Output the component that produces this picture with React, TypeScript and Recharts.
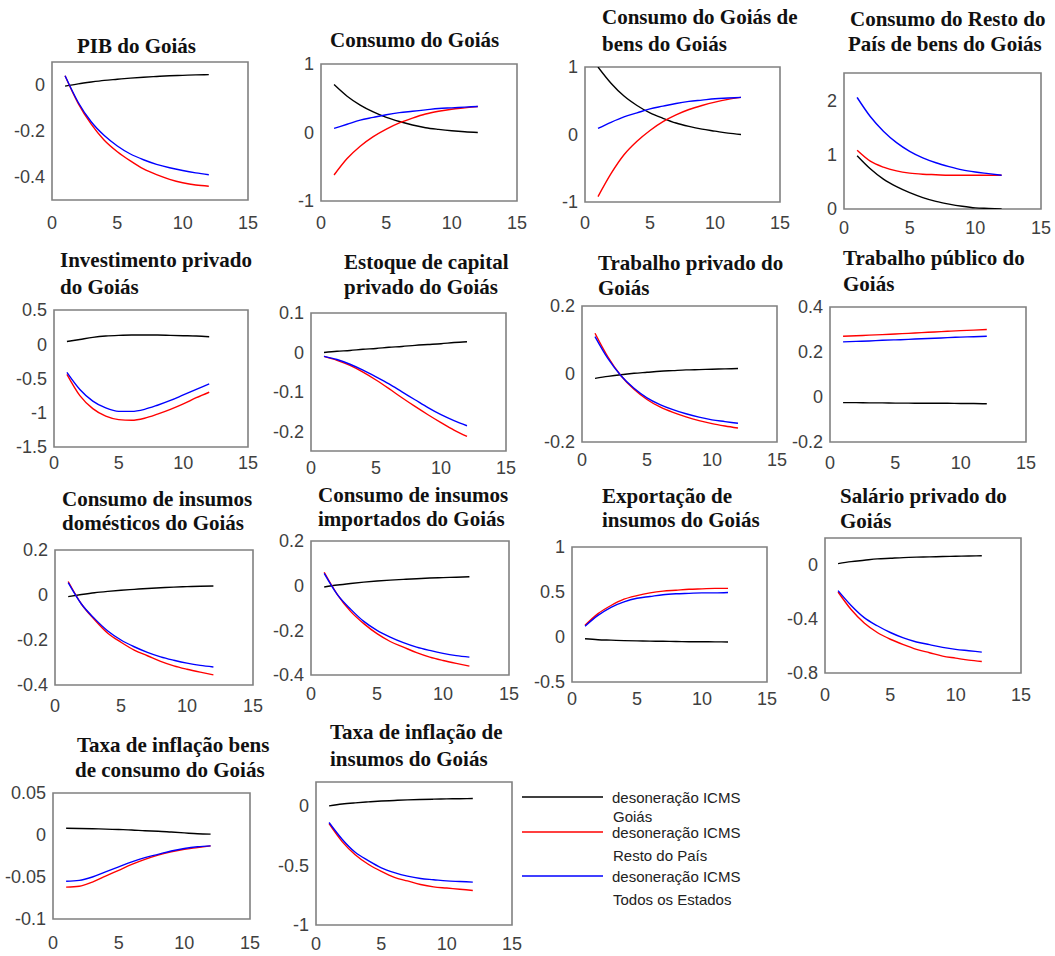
import { LineChart, Line, XAxis, YAxis, ReferenceArea } from 'recharts';

// horizon (quarters) and axis ticks
const periods = [1, 2, 3, 4, 5, 6, 7, 8, 9, 10, 11, 12];
const xTicks = [0, 5, 10, 15];

// go = desoneração ICMS Goiás (black), rp = Resto do País (red), te = Todos os Estados (blue)
const pibGo = [-0.005, 0.005, 0.013, 0.02, 0.025, 0.03, 0.034, 0.037, 0.04, 0.042, 0.044, 0.045];
const pibRp = [0.04, -0.08, -0.17, -0.24, -0.29, -0.33, -0.365, -0.39, -0.41, -0.425, -0.435, -0.44];
const pibTe = [0.04, -0.075, -0.16, -0.22, -0.265, -0.3, -0.325, -0.345, -0.36, -0.372, -0.382, -0.39];

const consGo = [0.7, 0.53, 0.4, 0.3, 0.22, 0.16, 0.11, 0.07, 0.045, 0.025, 0.01, 0.0];
const consRp = [-0.62, -0.38, -0.2, -0.06, 0.05, 0.14, 0.21, 0.27, 0.31, 0.34, 0.36, 0.38];
const consTe = [0.06, 0.12, 0.18, 0.22, 0.26, 0.29, 0.31, 0.33, 0.35, 0.36, 0.37, 0.38];

const consBensGo = [1.0, 0.76, 0.57, 0.43, 0.32, 0.24, 0.17, 0.12, 0.08, 0.05, 0.02, 0.0];
const consBensRp = [-0.92, -0.58, -0.3, -0.1, 0.06, 0.19, 0.29, 0.37, 0.43, 0.48, 0.52, 0.55];
const consBensTe = [0.09, 0.18, 0.26, 0.32, 0.38, 0.42, 0.46, 0.49, 0.51, 0.53, 0.54, 0.55];

const consRestoGo = [0.98, 0.74, 0.55, 0.41, 0.3, 0.21, 0.14, 0.09, 0.05, 0.02, 0.01, 0.0];
const consRestoRp = [1.08, 0.88, 0.77, 0.7, 0.66, 0.64, 0.63, 0.62, 0.62, 0.62, 0.62, 0.62];
const consRestoTe = [2.05, 1.7, 1.43, 1.22, 1.06, 0.94, 0.85, 0.78, 0.72, 0.68, 0.65, 0.62];

const invGo = [0.04, 0.07, 0.1, 0.12, 0.13, 0.135, 0.135, 0.135, 0.13, 0.125, 0.12, 0.11];
const invRp = [-0.44, -0.75, -0.94, -1.05, -1.1, -1.11, -1.08, -1.02, -0.95, -0.87, -0.78, -0.7];
const invTe = [-0.41, -0.66, -0.83, -0.93, -0.98, -0.98, -0.95, -0.89, -0.82, -0.74, -0.66, -0.58];

const capGo = [0.0, 0.003, 0.005, 0.008, 0.01, 0.013, 0.015, 0.018, 0.02, 0.022, 0.025, 0.027];
const capRp = [-0.01, -0.02, -0.033, -0.05, -0.07, -0.092, -0.115, -0.137, -0.158, -0.178, -0.197, -0.213];
const capTe = [-0.01, -0.018, -0.03, -0.045, -0.062, -0.08, -0.1, -0.12, -0.14, -0.158, -0.173, -0.186];

const trabPrivGo = [-0.013, -0.007, -0.002, 0.002, 0.005, 0.008, 0.01, 0.012, 0.013, 0.014, 0.015, 0.016];
const trabPrivRp = [0.12, 0.05, -0.005, -0.045, -0.075, -0.097, -0.113, -0.126, -0.137, -0.146, -0.153, -0.159];
const trabPrivTe = [0.11, 0.045, -0.005, -0.042, -0.07, -0.09, -0.105, -0.117, -0.127, -0.135, -0.14, -0.145];

const trabPubGo = [-0.025, -0.025, -0.026, -0.026, -0.027, -0.027, -0.028, -0.028, -0.028, -0.029, -0.029, -0.03];
const trabPubRp = [0.27, 0.272, 0.275, 0.277, 0.28, 0.283, 0.286, 0.289, 0.292, 0.295, 0.297, 0.3];
const trabPubTe = [0.245, 0.247, 0.249, 0.252, 0.254, 0.256, 0.259, 0.261, 0.264, 0.266, 0.268, 0.27];

const insDomGo = [-0.007, 0.002, 0.01, 0.016, 0.021, 0.025, 0.029, 0.032, 0.035, 0.037, 0.039, 0.04];
const insDomRp = [0.06, -0.04, -0.11, -0.17, -0.21, -0.245, -0.27, -0.295, -0.315, -0.33, -0.343, -0.355];
const insDomTe = [0.055, -0.04, -0.105, -0.16, -0.2, -0.23, -0.255, -0.275, -0.29, -0.303, -0.313, -0.32];

const insImpGo = [-0.006, 0.003, 0.01, 0.016, 0.021, 0.025, 0.028, 0.031, 0.034, 0.036, 0.038, 0.04];
const insImpRp = [0.06, -0.04, -0.115, -0.17, -0.215, -0.25, -0.275, -0.3, -0.32, -0.335, -0.348, -0.36];
const insImpTe = [0.055, -0.04, -0.105, -0.16, -0.2, -0.23, -0.255, -0.275, -0.29, -0.303, -0.313, -0.32];

const expGo = [-0.02, -0.03, -0.035, -0.04, -0.043, -0.046, -0.048, -0.05, -0.052, -0.053, -0.054, -0.055];
const expRp = [0.13, 0.26, 0.35, 0.42, 0.46, 0.49, 0.51, 0.52, 0.53, 0.535, 0.54, 0.54];
const expTe = [0.12, 0.24, 0.33, 0.39, 0.43, 0.45, 0.47, 0.48, 0.485, 0.49, 0.49, 0.495];

const salGo = [0.01, 0.025, 0.035, 0.045, 0.05, 0.055, 0.058, 0.06, 0.063, 0.065, 0.067, 0.068];
const salRp = [-0.2, -0.33, -0.43, -0.5, -0.55, -0.59, -0.625, -0.65, -0.675, -0.69, -0.705, -0.715];
const salTe = [-0.19, -0.3, -0.39, -0.45, -0.5, -0.54, -0.57, -0.59, -0.61, -0.625, -0.635, -0.645];

const inflConsGo = [0.008, 0.0078, 0.0075, 0.007, 0.0065, 0.006, 0.005, 0.0045, 0.0035, 0.0025, 0.0015, 0.001];
const inflConsRp = [-0.062, -0.061, -0.056, -0.049, -0.042, -0.035, -0.029, -0.024, -0.02, -0.017, -0.015, -0.013];
const inflConsTe = [-0.055, -0.054, -0.05, -0.044, -0.038, -0.032, -0.027, -0.023, -0.019, -0.016, -0.014, -0.013];

const inflInsGo = [0.0, 0.015, 0.025, 0.033, 0.04, 0.045, 0.05, 0.053, 0.056, 0.058, 0.06, 0.061];
const inflInsRp = [-0.15, -0.3, -0.41, -0.49, -0.55, -0.6, -0.63, -0.66, -0.68, -0.69, -0.7, -0.71];
const inflInsTe = [-0.14, -0.28, -0.39, -0.46, -0.52, -0.56, -0.59, -0.61, -0.62, -0.63, -0.635, -0.64];

const legendLabels = [
  ['desoneração ICMS', 'Goiás'],
  ['desoneração ICMS', 'Resto do País'],
  ['desoneração ICMS', 'Todos os Estados'],
];

// panel layout: plot box [left, top, right, bottom] in page px, title lines [text, x, centerY]
const panels = [
  { title: [['PIB do Goiás', 77, 47]], box: [52, 62, 248, 200], y: [-0.5, 0.1], yTicks: [-0.4, -0.2, 0], gap: 22, go: pibGo, rp: pibRp, te: pibTe },
  { title: [['Consumo do Goiás', 330, 41]], box: [321, 64, 517, 201], y: [-1, 1], yTicks: [-1, 0, 1], gap: 21, go: consGo, rp: consRp, te: consTe },
  { title: [['Consumo do Goiás de', 602, 18], ['bens do Goiás', 602, 45]], box: [585, 67, 780, 202], y: [-1, 1], yTicks: [-1, 0, 1], gap: 20, go: consBensGo, rp: consBensRp, te: consBensTe },
  { title: [['Consumo do Resto do', 850, 20], ['País de bens do Goiás', 848, 45]], box: [844, 73, 1041, 209], y: [0, 2.5], yTicks: [0, 1, 2], gap: 18, go: consRestoGo, rp: consRestoRp, te: consRestoTe },
  { title: [['Investimento privado', 60, 261], ['do Goiás', 60, 288]], box: [54, 310, 248, 447], y: [-1.5, 0.5], yTicks: [-1.5, -1, -0.5, 0, 0.5], gap: 15, go: invGo, rp: invRp, te: invTe },
  { title: [['Estoque de capital', 344, 263], ['privado do Goiás', 344, 288]], box: [311, 313, 506, 451], y: [-0.25, 0.1], yTicks: [-0.2, -0.1, 0, 0.1], gap: 16, go: capGo, rp: capRp, te: capTe },
  { title: [['Trabalho privado do', 598, 264], ['Goiás', 598, 289]], box: [582, 306, 777, 442], y: [-0.2, 0.2], yTicks: [-0.2, 0, 0.2], gap: 17, go: trabPrivGo, rp: trabPrivRp, te: trabPrivTe },
  { title: [['Trabalho público do', 843, 259], ['Goiás', 843, 285]], box: [830, 307, 1026, 442], y: [-0.2, 0.4], yTicks: [-0.2, 0, 0.2, 0.4], gap: 20, go: trabPubGo, rp: trabPubRp, te: trabPubTe },
  { title: [['Consumo de insumos', 62, 500], ['domésticos do Goiás', 62, 524]], box: [55, 550, 253, 685], y: [-0.4, 0.2], yTicks: [-0.4, -0.2, 0, 0.2], gap: 20, go: insDomGo, rp: insDomRp, te: insDomTe },
  { title: [['Consumo de insumos', 318, 496], ['importados do Goiás', 318, 520]], box: [311, 541, 509, 675], y: [-0.4, 0.2], yTicks: [-0.4, -0.2, 0, 0.2], gap: 18, go: insImpGo, rp: insImpRp, te: insImpTe },
  { title: [['Exportação de', 602, 497], ['insumos do Goiás', 602, 521]], box: [572, 547, 767, 682], y: [-0.5, 1], yTicks: [-0.5, 0, 0.5, 1], gap: 16, go: expGo, rp: expRp, te: expTe },
  { title: [['Salário privado do', 840, 497], ['Goiás', 840, 522]], box: [825, 538, 1021, 673], y: [-0.8, 0.2], yTicks: [-0.8, -0.4, 0], gap: 21, go: salGo, rp: salRp, te: salTe },
  { title: [['Taxa de inflação bens', 77, 746], ['de consumo do Goiás', 75, 771]], box: [53, 793, 250, 919], y: [-0.1, 0.05], yTicks: [-0.1, -0.05, 0, 0.05], gap: 23, go: inflConsGo, rp: inflConsRp, te: inflConsTe },
  { title: [['Taxa de inflação de', 330, 733], ['insumos do Goiás', 330, 760]], box: [316, 782, 512, 925], y: [-1, 0.2], yTicks: [-1, -0.5, 0], gap: 18, go: inflInsGo, rp: inflInsRp, te: inflInsTe },
];

const tickStyle = { fontSize: 18, fill: '#404040', fontFamily: '"Liberation Sans", Arial, sans-serif' };
const YW = 70;
const XH = 40;

function Panel({ p }: { p: any }) {
  const [L, T, R, B] = p.box;
  const w = R - L;
  const h = B - T;
  const data = periods.map((x, i) => ({ x, go: p.go[i], rp: p.rp[i], te: p.te[i] }));
  return (
    <>
      {p.title.map(([text, x, cy]: any, i: number) => (
        <div
          key={i}
          style={{
            position: 'absolute', left: x, top: cy - 11, fontSize: 21, lineHeight: '21px',
            fontWeight: 'bold', fontFamily: '"Liberation Serif", "Times New Roman", serif',
            color: '#111', whiteSpace: 'nowrap',
          }}
        >
          {text}
        </div>
      ))}
      <div style={{ position: 'absolute', left: L - YW, top: T - 12 }}>
        <LineChart width={w + YW + 12} height={h + 12 + XH} data={data} margin={{ top: 12, right: 12, bottom: 0, left: 0 }}>
          <XAxis dataKey="x" type="number" domain={[0, 15]} ticks={xTicks} interval={0} height={XH}
            axisLine={false} tickLine={false} tickSize={0} tickMargin={p.gap - 6} tick={tickStyle} allowDataOverflow />
          <YAxis type="number" domain={p.y} ticks={p.yTicks} interval={0} width={YW}
            axisLine={false} tickLine={false} tickSize={0} tickMargin={7} tick={tickStyle} allowDataOverflow />
          <ReferenceArea x1={0} x2={15} y1={p.y[0]} y2={p.y[1]} fill="none" stroke="#808080" strokeWidth={1.6} ifOverflow="visible" />
          <Line dataKey="go" type="monotone" stroke="#000000" strokeWidth={1.4} dot={false} isAnimationActive={false} />
          <Line dataKey="rp" type="monotone" stroke="#ff0000" strokeWidth={1.4} dot={false} isAnimationActive={false} />
          <Line dataKey="te" type="monotone" stroke="#0000ff" strokeWidth={1.4} dot={false} isAnimationActive={false} />
        </LineChart>
      </div>
    </>
  );
}

const legendColors = ['#000000', '#ff0000', '#0000ff'];
const legendRows = [17, 52, 96];

export default function App() {
  return (
    <div style={{ position: 'absolute', left: 0, top: 0, width: 1055, height: 956, background: '#fff', overflow: 'hidden' }}>
      {panels.map((p, i) => (
        <Panel key={i} p={p} />
      ))}
      <svg style={{ position: 'absolute', left: 515, top: 780 }} width={260} height={140}>
        {legendLabels.map(([l1, l2], i) => (
          <g key={i}>
            <line x1={7} x2={88} y1={legendRows[i]} y2={legendRows[i]} stroke={legendColors[i]} strokeWidth={1.4} />
            <text x={97} y={legendRows[i]} dominantBaseline="central" fontSize={15} fill="#222"
              fontFamily='"Liberation Sans", Arial, sans-serif'>{l1}</text>
            <text x={98} y={legendRows[i] + (i === 0 ? 19 : 23)} dominantBaseline="central" fontSize={15} fill="#222"
              fontFamily='"Liberation Sans", Arial, sans-serif'>{l2}</text>
          </g>
        ))}
      </svg>
    </div>
  );
}
